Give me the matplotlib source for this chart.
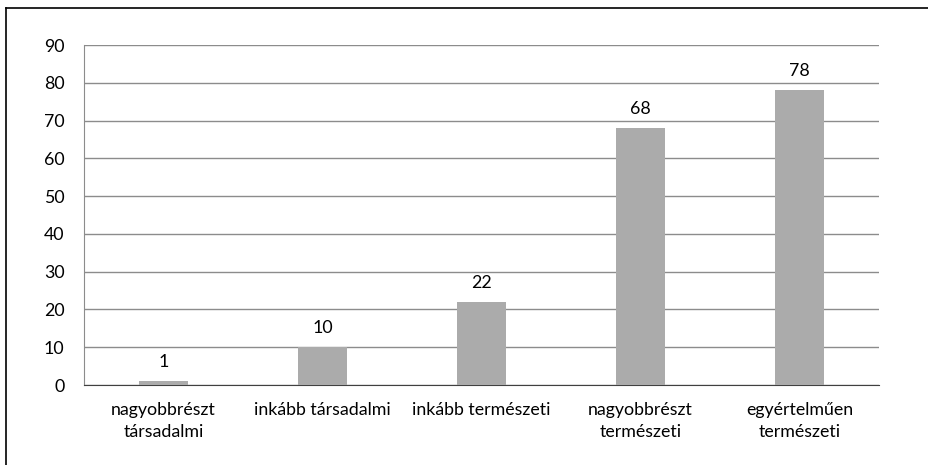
import matplotlib.pyplot as plt
from matplotlib.lines import Line2D

categories = ["nagyobbrészt\ntársadalmi", "inkább társadalmi", "inkább természeti",
              "nagyobbrészt\ntermészeti", "egyértelműen\ntermészeti"]
values = [1, 10, 22, 68, 78]
yticks = [0, 10, 20, 30, 40, 50, 60, 70, 80, 90]

plt.rcParams['font.family'] = ['Lato', 'DejaVu Sans']
fs = 12.8

fig = plt.figure(figsize=(9.29, 4.65), dpi=100)
ax = fig.add_axes([84 / 929, 1 - 385 / 465, 795 / 929, 340 / 465])

x = list(range(len(values)))
ax.bar(x, values, width=0.31, color="#ababab", zorder=3)
for xi, v in zip(x, values):
    ax.text(xi, v + 3, str(v), ha="center", va="bottom", fontsize=fs)

ax.set_xlim(-0.5, len(values) - 0.5)
ax.set_ylim(0, 90)
ax.set_yticks(yticks)
ax.yaxis.grid(True, color="#8c8c8c", linewidth=1, zorder=0)
ax.set_xticks(x)
ax.set_xticklabels(categories, fontsize=fs, linespacing=1.45)
ax.tick_params(axis="both", length=0, labelsize=fs)
ax.tick_params(axis="x", pad=12)
ax.tick_params(axis="y", pad=14)
for s in ["top", "right"]:
    ax.spines[s].set_visible(False)
ax.spines["left"].set_color("#8c8c8c")
ax.spines["bottom"].set_color("#404040")

# outer frame (top and left edges visible)
fig.add_artist(Line2D([6 / 929, 1], [1 - 8.5 / 465, 1 - 8.5 / 465], color="black", linewidth=1.2))
fig.add_artist(Line2D([6.5 / 929, 6.5 / 929], [0, 1 - 8.5 / 465], color="black", linewidth=1.2))

fig.savefig("out.png", dpi=100)
